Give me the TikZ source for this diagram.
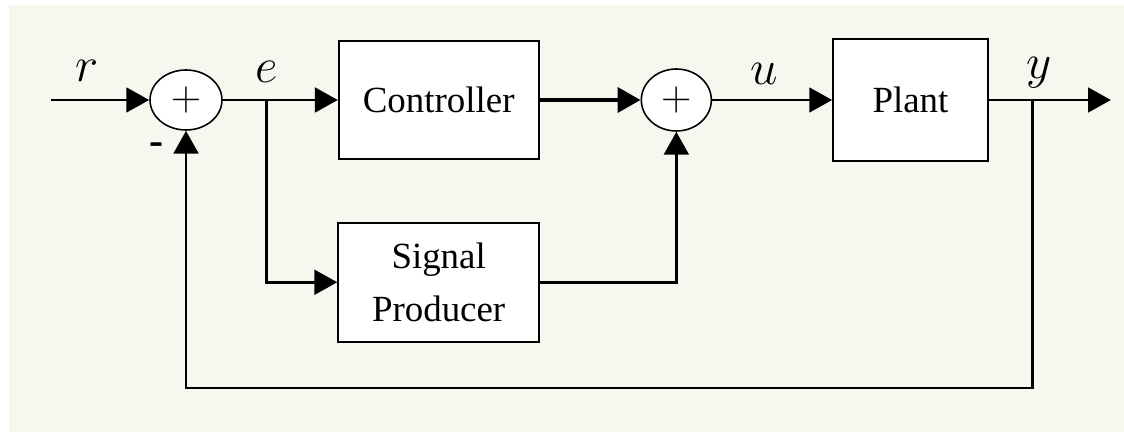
\RequirePackage{fix-cm}
\documentclass[tikz,border=0pt]{standalone}
\usepackage{fontspec}
\setmainfont{Liberation Serif}
\usepackage{tikz}
\usetikzlibrary{shapes.geometric, arrows.meta, positioning, calc}
\definecolor{paper}{RGB}{247, 247, 239}

\tikzset{
    block/.style={draw, fill=white, line width=1pt, align=center, font=\fontsize{21}{30}\selectfont},
    sumnode/.style={draw, ellipse, fill=white, line width=0.9pt, inner sep=0pt, font=\fontsize{24}{28}\selectfont},
    signal/.style={line width=1.7pt},
    siglabel/.style={anchor=base, font=\fontsize{28}{32}\selectfont}
}

\begin{document}
\begin{tikzpicture}[>={Triangle[length=13pt, width=14pt]}]
    % Page and paper
    \useasboundingbox (0,0) rectangle (22.48,-8.64);
    \fill[paper] (0.18,-0.1) rectangle (22.48,-8.64);

    % Nodes
    \node[sumnode, minimum width=1.44cm, minimum height=1.2cm] (sum1) at (3.72,-2.0) {$+$};
    \node[block, minimum width=4cm, minimum height=2.36cm, right=2.3cm of sum1] (ctrl) {Controller};
    \node[sumnode, minimum width=1.4cm, minimum height=1.24cm, right=2.02cm of ctrl] (sum2) {$+$};
    \node[block, minimum width=3.1cm, minimum height=2.44cm, right=2.4cm of sum2] (plant) {Plant};
    \node[block, minimum width=4.02cm, minimum height=2.38cm, below=1.24cm of ctrl] (sig) {Signal\\Producer};

    % Branch points and free ends
    \coordinate[left=1.96cm of sum1.west] (in);
    \coordinate[right=0.88cm of sum1.east] (ebr);
    \coordinate[right=0.88cm of plant.east] (ybr);
    \coordinate[right=2.44cm of plant.east] (out);

    % Arrows
    \draw[->, signal] (in) -- node[siglabel, pos=0.37, yshift=0.36cm] {$r$} (sum1);
    \draw[->, signal] (sum1) -- (ctrl);
    \draw[->, signal, line width=2.6pt] (ctrl) -- (sum2);
    \draw[->, signal] (sum2) -- node[siglabel, pos=0.43, yshift=0.3cm] {$u$} (plant);
    \draw[->, signal] (plant) -- node[siglabel, pos=0.41, yshift=0.42cm] {$y$} (out);
    \draw[->, signal] (ebr) |- (sig);
    \draw[->, signal] (sig) -| (sum2);
    \draw[->, signal] (ybr) -- ++(0,-5.76) -| (sum1);

    % Error label and feedback sign
    \node[siglabel, yshift=0.34cm] (elab) at (ebr) {$e$};
    \node[font=\fontsize{24}{28}\selectfont\bfseries] (minus) at ($(sum1.south)+(-0.58,-0.36)$) {-};
\end{tikzpicture}
\end{document}
